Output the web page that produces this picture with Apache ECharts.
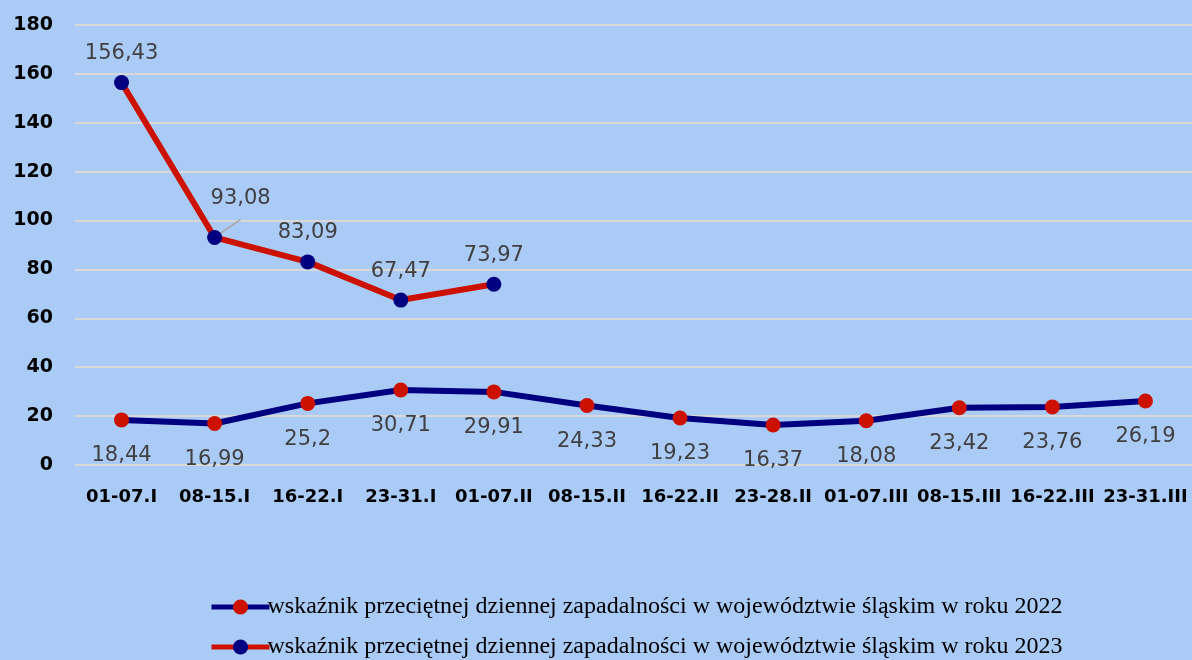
<!DOCTYPE html>
<html>
<head>
<meta charset="utf-8">
<script src="https://cdn.jsdelivr.net/npm/echarts@6/dist/echarts.min.js"></script>
<style>
html,body{margin:0;padding:0;background:#abcbf7;}
#chart{width:1192px;height:660px;}
</style>
</head>
<body>
<div id="chart"></div>
<script>
var categories = ['01-07.I','08-15.I','16-22.I','23-31.I','01-07.II','08-15.II','16-22.II','23-28.II','01-07.III','08-15.III','16-22.III','23-31.III'];
var values2022 = [18.44,16.99,25.2,30.71,29.91,24.33,19.23,16.37,18.08,23.42,23.76,26.19];
var values2023 = [156.43,93.08,83.09,67.47,73.97];
var yTicks = [0,20,40,60,80,100,120,140,160,180];
var name2022 = 'wskaźnik przeciętnej dziennej zapadalności w województwie śląskim w roku 2022';
var name2023 = 'wskaźnik przeciętnej dziennej zapadalności w województwie śląskim w roku 2023';

var NAVY = '#000080';
var RED = '#cc1100';
var fmt = function(p){ return String(p.value).replace('.', ','); };

var data2023 = values2023.map(function(v, i){
  if (i === 1) {
    return { value: v, label: { position: 'top', offset: [26, -10] }, labelLine: { show: true } };
  }
  return v;
});

function legendAt(name, top) {
  return {
    orient: 'horizontal',
    left: 204,
    top: top,
    itemWidth: 58,
    itemHeight: 19,
    lineStyle: { width: 5 },
    textStyle: { fontFamily: 'Liberation Serif', fontSize: 24, color: '#000', padding: [0,0,0,-7] },
    data: [name]
  };
}

var chart = echarts.init(document.getElementById('chart'));
chart.setOption({
  backgroundColor: '#abcbf7',
  animation: false,
  grid: { left: 75, right: 0, top: 25, bottom: 195 },
  legend: [legendAt(name2022, 590), legendAt(name2023, 630)],
  xAxis: {
    type: 'category',
    data: categories,
    boundaryGap: true,
    axisLine: { show: false },
    axisTick: { show: false },
    axisLabel: { interval: 0, margin: 23, fontFamily: 'DejaVu Sans', fontWeight: 'bold', fontSize: 18, color: '#000' }
  },
  yAxis: {
    type: 'value',
    min: yTicks[0],
    max: yTicks[yTicks.length - 1],
    interval: 20,
    axisLine: { show: false },
    axisTick: { show: false },
    splitLine: { lineStyle: { color: '#d9d9d9', width: 2 } },
    axisLabel: { margin: 22, fontFamily: 'DejaVu Sans', fontWeight: 'bold', fontSize: 19, color: '#000', align: 'right' }
  },
  series: [
    {
      name: name2022,
      type: 'line',
      data: values2022,
      symbol: 'circle',
      symbolSize: 15,
      lineStyle: { color: NAVY, width: 6 },
      itemStyle: { color: RED },
      label: { show: true, position: 'bottom', distance: 18, formatter: fmt, fontFamily: 'DejaVu Sans', fontSize: 21, color: '#404040' },
      z: 2
    },
    {
      name: name2023,
      type: 'line',
      data: data2023,
      symbol: 'circle',
      symbolSize: 15,
      lineStyle: { color: RED, width: 6 },
      itemStyle: { color: NAVY },
      labelLine: { show: false, lineStyle: { color: '#a6a6a6', width: 1.5 } },
      label: { show: true, position: 'top', distance: 11, formatter: fmt, fontFamily: 'DejaVu Sans', fontSize: 21, color: '#404040' },
      z: 3
    }
  ]
});
</script>
</body>
</html>
